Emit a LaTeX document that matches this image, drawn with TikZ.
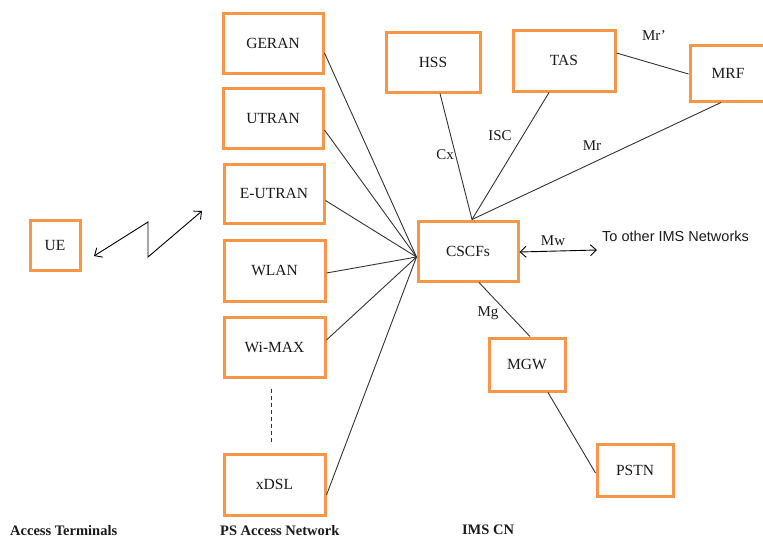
\documentclass[tikz,border=0pt]{standalone}
\usepackage{fontspec}
\setmainfont{Liberation Serif}
\newfontfamily\arialfont{Liberation Sans}
\usetikzlibrary{arrows.meta,calc}
\definecolor{boxorange}{HTML}{F79646}
\definecolor{txtgray}{HTML}{1A1A1A}
\tikzset{
  nebox/.style={draw=boxorange, line width=3pt, rectangle, fill=white,
    text=txtgray, font=\fontsize{15.5}{17}\selectfont, inner sep=0pt},
  link/.style={draw=black!80, line width=0.9pt},
  lbl/.style={text=txtgray, font=\fontsize{15}{17}\selectfont, inner sep=0pt},
  foot/.style={text=txtgray, font=\fontsize{14.5}{16}\selectfont\bfseries, inner sep=0pt},
  barb/.style={line width=0.9pt, {Straight Barb[length=6pt,width=11pt]}-{Straight Barb[length=6pt,width=11pt]}}
}
\begin{document}
\begin{tikzpicture}[x=1pt,y=-1pt]
\useasboundingbox (0,0) rectangle (763,538);
% access terminals
\node[nebox, minimum width=50, minimum height=50] (ue) at (55,245) {UE};
% access networks
\node[nebox, minimum width=100, minimum height=60] (geran) at (273,43) {GERAN};
\node[nebox, minimum width=100, minimum height=60] (utran) at (273,118) {UTRAN};
\node[nebox, minimum width=100, minimum height=59] (eutran) at (274,193.5) {E-UTRAN};
\node[nebox, minimum width=101, minimum height=61] (wlan) at (274.5,270.5) {WLAN};
\node[nebox, minimum width=101, minimum height=60] (wimax) at (274.5,347) {Wi-MAX};
\node[nebox, minimum width=101, minimum height=61] (xdsl) at (274.5,484.5) {xDSL};
\draw[link, dashed, dash pattern=on 4pt off 3pt] (wimax.south) ++(-3,10) coordinate (d1) -- ($(xdsl.north)+(-3,-11)$) coordinate (d2);
% IMS CN
\node[nebox, minimum width=94, minimum height=60] (hss) at (433,62) {HSS};
\node[nebox, minimum width=102, minimum height=61] (tas) at (564,60.5) {TAS};
\node[nebox, minimum width=76, minimum height=56] (mrf) at (728,73) {MRF};
\node[nebox, minimum width=100, minimum height=60] (cscf) at (468,251) {CSCFs};
\node[nebox, minimum width=76, minimum height=53] (mgw) at (527,364.5) {MGW};
\node[nebox, minimum width=76, minimum height=52] (pstn) at (635,470) {PSTN};
% convergence points on CSCFs
\coordinate (cl) at ($(cscf.west)+(0,6)$);
\coordinate (ct) at ($(cscf.north)+(4,0)$);
% radio link
\coordinate (z1) at (148,222);
\coordinate (z2) at (148,257);
\coordinate (ra) at (94,256);
\coordinate (rb) at (202,211);
\draw[barb] (ra) -- (z1) -- (z2) -- (rb);
% access to CSCF
\draw[link] ([yshift=-10pt]geran.east) -- (cl);
\draw[link] ([yshift=-12pt]utran.east) -- (cl);
\draw[link] ([yshift=-7pt]eutran.east) -- (cl);
\draw[link] ([yshift=-2.5pt]wlan.east) -- (cl);
\draw[link] ([yshift=7pt]wimax.east) -- (cl);
\draw[link] ([yshift=-10.5pt]xdsl.east) -- (cl);
% IMS links
\draw[link] ([xshift=7pt]hss.south) -- (ct);
\draw[link] ([xshift=-15pt]tas.south) -- (ct);
\draw[link] ([xshift=-7pt]mrf.south) -- (ct);
\draw[link] ([yshift=7.5pt]tas.east) -- ([yshift=-1pt]mrf.west);
\draw[link] ([xshift=11pt]cscf.south) -- ([xshift=3pt]mgw.north);
\draw[link] ([xshift=21pt]mgw.south) -- ([yshift=-3pt]pstn.west);
\node[lbl, anchor=west, font=\arialfont\fontsize{14.5}{16}\selectfont] (other) at (602,236) {To other IMS Networks};
\coordinate (mwend) at (597,250);
\draw[barb] ([yshift=-1pt]cscf.east) -- (mwend);
% interface labels
\node[lbl] (lcx) at (445,155) {Cx};
\node[lbl] (lisc) at (500,136) {ISC};
\node[lbl] (lmr) at (592,146) {Mr};
\node[lbl] (lmrp) at (654,36) {Mr’};
\node[lbl] (lmw) at (553,241) {Mw};
\node[lbl] (lmg) at (488,313) {Mg};
% footer labels
\node[foot, anchor=west] (f1) at (10,531) {Access Terminals};
\node[foot, anchor=west] (f2) at (220,531) {PS Access Network};
\node[foot] (f3) at (488,530) {IMS CN};
\end{tikzpicture}
\end{document}
